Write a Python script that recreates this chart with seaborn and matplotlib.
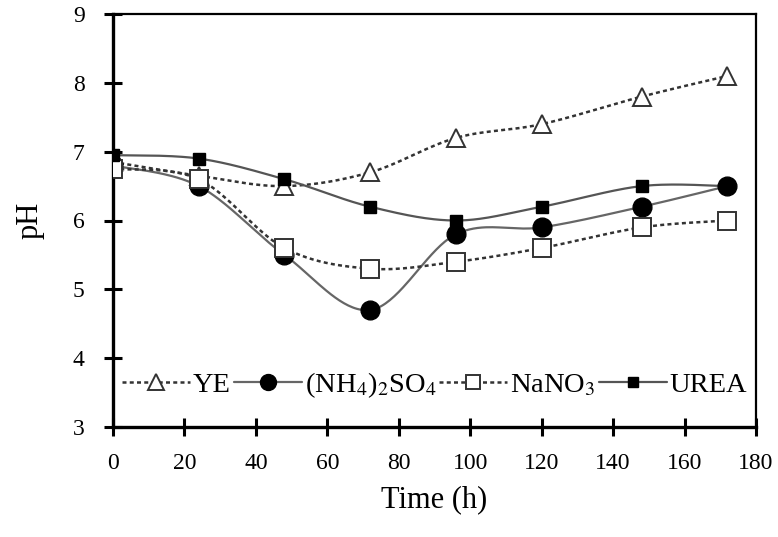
import numpy as np
import matplotlib
matplotlib.use("Agg")
import matplotlib.pyplot as plt
import seaborn as sns
import pandas as pd
from matplotlib.lines import Line2D

# ---- data ----
time_h = [0, 24, 48, 72, 96, 120, 148, 172]
ph_ye = [6.85, 6.65, 6.5, 6.7, 7.2, 7.4, 7.8, 8.1]
ph_nh4 = [6.8, 6.5, 5.5, 4.7, 5.8, 5.9, 6.2, 6.5]
ph_nano3 = [6.75, 6.6, 5.6, 5.3, 5.4, 5.6, 5.9, 6.0]
ph_urea = [6.95, 6.9, 6.6, 6.2, 6.0, 6.2, 6.5, 6.5]
series_names = ["YE", r"(NH$_4$)$_2$SO$_4$", r"NaNO$_3$", "UREA"]
x_ticks = [0, 20, 40, 60, 80, 100, 120, 140, 160, 180]
y_ticks = [3, 4, 5, 6, 7, 8, 9]

sns.set_style("ticks")
plt.rcParams["font.family"] = ["Liberation Serif", "DejaVu Serif"]
plt.rcParams["mathtext.fontset"] = "stix"
plt.rcParams["text.color"] = "black"
plt.rcParams["axes.labelcolor"] = "black"
plt.rcParams["xtick.color"] = "black"
plt.rcParams["ytick.color"] = "black"


def excel_smooth(x, y, n=40):
    pts = np.column_stack([x, y]).astype(float)
    out = [pts[0]]
    for i in range(len(pts) - 1):
        p0 = pts[i - 1] if i > 0 else pts[i]
        p1 = pts[i]
        p2 = pts[i + 1]
        p3 = pts[i + 2] if i + 2 < len(pts) else pts[i + 1]
        c1 = p1 + (p2 - p0) / 6.0
        c2 = p2 - (p3 - p1) / 6.0
        t = np.linspace(0, 1, n)[1:, None]
        seg = (1 - t) ** 3 * p1 + 3 * (1 - t) ** 2 * t * c1 + 3 * (1 - t) * t ** 2 * c2 + t ** 3 * p2
        out.extend(seg)
    out = np.array(out)
    return out[:, 0], out[:, 1]


fig = plt.figure(figsize=(7.78, 5.37), dpi=100)
ax = fig.add_axes([113 / 778, 1 - 427 / 537, (756 - 113) / 778, (427 - 14) / 537])

dotted = (0, (1.6, 1.3))
styles = [
    dict(ls=dotted, lc="#333333", lw=1.8, marker="^", ms=13, mfc="white", mec="#333333", mew=1.4),
    dict(ls="-", lc="#666666", lw=1.6, marker="o", ms=13.5, mfc="black", mec="black", mew=1.0),
    dict(ls=dotted, lc="#333333", lw=1.8, marker="s", ms=12.5, mfc="white", mec="#333333", mew=1.4),
    dict(ls="-", lc="#555555", lw=1.6, marker="s", ms=8.5, mfc="black", mec="black", mew=1.0),
]
series = [ph_ye, ph_nh4, ph_nano3, ph_urea]

for k, (vals, st) in enumerate(zip(series, styles)):
    sx, sy = excel_smooth(time_h, vals)
    df = pd.DataFrame({"t": sx, "ph": sy})
    sns.lineplot(data=df, x="t", y="ph", ax=ax, sort=False, estimator=None,
                 color=st["lc"], linewidth=st["lw"], linestyle=st["ls"], zorder=2 + k)
for k, (vals, st) in enumerate(zip(series, styles)):
    ax.plot(time_h, vals, linestyle="none", marker=st["marker"], markersize=st["ms"],
            markerfacecolor=st["mfc"], markeredgecolor=st["mec"], markeredgewidth=st["mew"],
            zorder=10 + k)

ax.set_xlim(0, 180)
ax.set_ylim(3, 9)
ax.set_xticks(x_ticks)
ax.set_yticks(y_ticks)
ax.tick_params(axis="both", direction="inout", length=13, width=2.2, labelsize=17,
               colors="black")
ax.tick_params(axis="y", pad=14)
ax.tick_params(axis="x", pad=12)
for sp in ax.spines.values():
    sp.set_visible(True)
    sp.set_linewidth(2.4)
    sp.set_color("black")
ax.spines["top"].set_linewidth(1.6)
ax.spines["right"].set_linewidth(1.6)

ax.set_xlabel("Time (h)", fontsize=22, labelpad=8)
ax.set_ylabel("pH", fontsize=22, labelpad=20)

handles = []
for st in styles:
    handles.append(Line2D([0], [0], color=st["lc"], lw=st["lw"], linestyle=st["ls"],
                          marker=st["marker"], markersize=st["ms"] * 0.85,
                          markerfacecolor=st["mfc"], markeredgecolor=st["mec"],
                          markeredgewidth=st["mew"]))
leg = ax.legend(handles, series_names, loc="center", bbox_to_anchor=(0.5, (385 - 427) / -413),
                ncol=4, frameon=False, fontsize=20.5, handlelength=2.4, handletextpad=0.1,
                columnspacing=0.1, borderaxespad=0)

fig.savefig("out.png", dpi=100)
